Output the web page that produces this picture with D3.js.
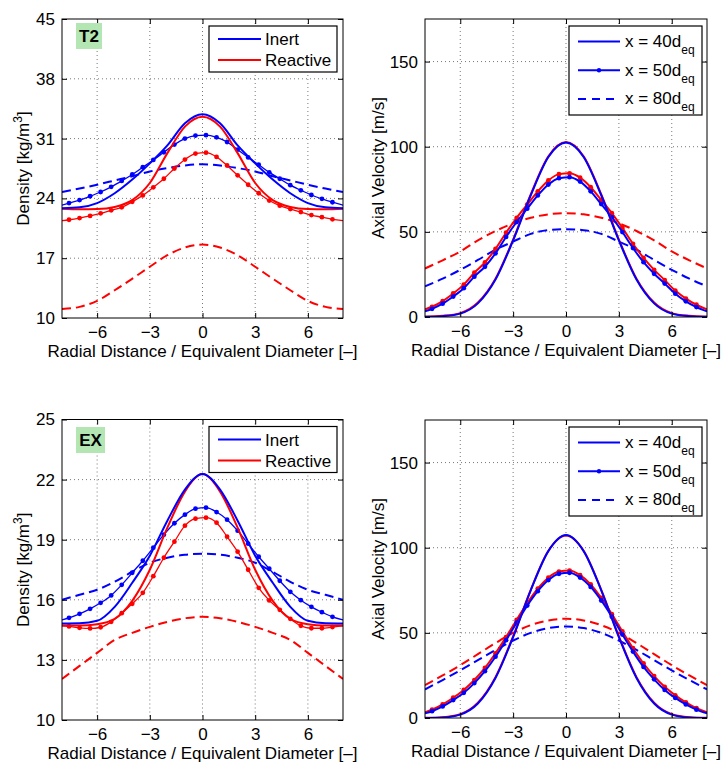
<!DOCTYPE html>
<html>
<head>
<meta charset="utf-8">
<script src="https://cdn.jsdelivr.net/npm/d3@7"></script>
<style>
  body { margin: 0; background: #fff; }
  svg { font-family: "Liberation Sans", Arial, Helvetica, sans-serif; }
</style>
</head>
<body>
<script>
// radial positions (r / d_eq)
const xGrid = [-8, -7, -6, -5, -4, -3, -2, -1, 0, 1, 2, 3, 4, 5, 6, 7, 8];
const markerX = [-8, -7.6, -7.0, -6.4, -5.8, -5.2, -4.6, -4.0, -3.4, -2.8, -2.2, -1.6, -1.0, -0.4,
                 0.2, 0.8, 1.4, 2.0, 2.6, 3.2, 3.8, 4.4, 5.0, 5.6, 6.2, 6.8, 7.4, 8];

const xTicks = [-6, -3, 0, 3, 6];
const t2DensTicks = [10, 17, 24, 31, 38, 45];
const exDensTicks = [10, 13, 16, 19, 22, 25];
const velTicks = [0, 50, 100, 150];

// T2 density [kg/m3]
const t2DensInert40 = [22.85, 22.95, 23.45, 24.6, 26.2, 28.1, 30.2, 32.8, 33.85, 32.8, 30.2, 28.1, 26.2, 24.6, 23.45, 22.95, 22.85];
const t2DensReact40 = [22.8, 22.72, 22.75, 23.0, 23.8, 25.8, 29.3, 32.4, 33.55, 32.4, 29.3, 25.8, 23.8, 23.0, 22.75, 22.72, 22.8];
const t2DensInert50 = [23.2, 23.45, 23.8, 24.25, 24.75, 25.35, 26.05, 26.8, 27.65, 28.5, 29.4, 30.3, 31.0, 31.35,
                       31.4, 31.15, 30.6, 29.7, 28.8, 27.95, 27.05, 26.3, 25.55, 24.95, 24.4, 23.95, 23.55, 23.2];
const t2DensReact50 = [21.4, 21.5, 21.7, 21.95, 22.25, 22.6, 22.95, 23.6, 24.35, 25.3, 26.3, 27.5, 28.55, 29.25,
                       29.35, 28.85, 27.85, 26.7, 25.6, 24.6, 23.75, 23.15, 22.75, 22.4, 22.05, 21.8, 21.55, 21.4];
const t2DensInert80 = [24.75, 25.15, 25.6, 26.1, 26.6, 27.15, 27.55, 27.85, 28.0, 27.85, 27.55, 27.15, 26.6, 26.1, 25.6, 25.15, 24.75];
const t2DensReact80 = [11.05, 11.3, 12.0, 13.25, 14.6, 16.0, 17.35, 18.25, 18.6, 18.25, 17.35, 16.0, 14.6, 13.25, 12.0, 11.3, 11.05];

// T2 axial velocity [m/s]
const t2VelInert40 = [0.1, 0.5, 2, 8, 22, 45, 71.5, 94, 102.5, 94, 71.5, 45, 22, 8, 2, 0.5, 0.1];
const t2VelReact40 = [0.2, 0.7, 2.3, 8.5, 22.5, 45.5, 72, 94.3, 102.7, 94.3, 72, 45.5, 22.5, 8.5, 2.3, 0.7, 0.2];
const t2VelInert50 = [3.3, 4.8, 7.8, 12, 16.9, 23.7, 29.5, 37.4, 47, 55.8, 63.6, 71.4, 77.8, 81.5,
                      82.1, 79.5, 73.8, 66.3, 58.6, 49.9, 40.5, 32.2, 25.4, 19.6, 13.7, 9.2, 5.8, 3.3];
const t2VelReact50 = [4.5, 6, 9.3, 13.8, 19, 26, 32, 40, 49.5, 58.2, 66, 73.8, 80.2, 83.9,
                      84.4, 81.8, 76.2, 68.7, 61, 52.3, 43, 34.7, 27.7, 21.7, 15.5, 10.8, 7.2, 4.5];
const t2VelInert80 = [18, 22.5, 27.7, 33.5, 39.5, 44.3, 48.8, 51, 51.5, 51, 48.8, 44.3, 39.5, 33.5, 27.7, 22.5, 18];
const t2VelReact80 = [28.5, 33.3, 38.5, 45, 50.5, 55, 58.3, 60.3, 61, 60.3, 58.3, 55, 50.5, 45, 38.5, 33.3, 28.5];

// EX density [kg/m3]
const exDensInert40 = [14.82, 14.83, 14.95, 15.65, 16.85, 18.2, 19.95, 21.5, 22.28, 21.5, 19.95, 18.2, 16.85, 15.65, 14.95, 14.83, 14.82];
const exDensReact40 = [14.72, 14.72, 14.78, 15.05, 15.95, 17.5, 19.6, 21.4, 22.28, 21.4, 19.6, 17.5, 15.95, 15.05, 14.78, 14.72, 14.72];
const exDensInert50 = [15.0, 15.1, 15.3, 15.55, 15.85, 16.22, 16.75, 17.35, 17.95, 18.6, 19.25, 19.82, 20.25, 20.55,
                       20.6, 20.38, 20.0, 19.45, 18.8, 18.15, 17.55, 16.95, 16.4, 15.98, 15.65, 15.38, 15.15, 15.0];
const exDensReact50 = [14.7, 14.67, 14.6, 14.57, 14.63, 14.9, 15.33, 15.8, 16.35, 17.18, 18.1, 18.9, 19.7, 20.05,
                       20.1, 19.85, 19.15, 18.4, 17.5, 16.6, 15.97, 15.5, 15.05, 14.7, 14.58, 14.58, 14.64, 14.7];
const exDensInert80 = [16.0, 16.25, 16.5, 16.9, 17.4, 17.85, 18.1, 18.25, 18.3, 18.25, 18.1, 17.85, 17.4, 16.9, 16.5, 16.25, 16.0];
const exDensReact80 = [12.05, 12.7, 13.35, 14.0, 14.35, 14.65, 14.9, 15.08, 15.15, 15.08, 14.9, 14.65, 14.35, 14.0, 13.35, 12.7, 12.05];

// EX axial velocity [m/s]
const exVelInert40 = [0, 0.3, 2, 8.5, 23.5, 47.5, 75, 98, 107.4, 98, 75, 47.5, 23.5, 8.5, 2, 0.3, 0];
const exVelReact40 = [0.1, 0.5, 2.3, 9, 24, 48, 75.3, 98.2, 107.2, 98.2, 75.3, 48, 24, 9, 2.3, 0.5, 0.1];
const exVelInert50 = [2.7, 4, 6.8, 10.5, 14.8, 20.5, 27.5, 36, 45.7, 56, 66, 74.5, 81, 84.7,
                      85.3, 82.5, 77, 69, 59.5, 49, 39, 30, 22.7, 16.5, 11.8, 8, 4.9, 2.7];
const exVelReact50 = [3.4, 4.9, 8, 11.9, 16.5, 22.3, 29.4, 38, 47.5, 57.6, 67.5, 76, 82.4, 86,
                      86.6, 83.9, 78.5, 70.5, 61, 50.8, 41, 32, 24.6, 18.3, 13.3, 9.2, 5.8, 3.4];
const exVelInert80 = [16.8, 22.3, 28, 34, 40, 45.5, 50, 52.8, 53.8, 52.8, 50, 45.5, 40, 34, 28, 22.3, 16.8];
const exVelReact80 = [19.3, 25, 31, 37.5, 44, 50, 54.5, 57.3, 58.3, 57.3, 54.5, 50, 44, 37.5, 31, 25, 19.3];

const BLUE = '#0000ff';
const RED = '#ff0000';
const FONT = 17;

const svg = d3.select('body').append('svg')
  .attr('width', 724)
  .attr('height', 763);

const defs = svg.append('defs');

// red first so blue sits on top, like the original
const makeSeries = (i40, r40, i50, r50, i80, r80) => [
  { x: xGrid, y: r80, color: RED, kind: 'dash' },
  { x: xGrid, y: i80, color: BLUE, kind: 'dash' },
  { x: markerX, y: r50, color: RED, kind: 'dots' },
  { x: markerX, y: i50, color: BLUE, kind: 'dots' },
  { x: xGrid, y: r40, color: RED, kind: 'solid' },
  { x: xGrid, y: i40, color: BLUE, kind: 'solid' }
];

const panels = [
  { id: 'p1', left: 62, right: 343, top: 19, bottom: 318, yDomain: [10, 45], yTicks: t2DensTicks,
    ylabel: 'density', ylabelX: 29, legend: 'case', tag: 'T2', tagW: 26, tagTop: 4, dotW: 1.3,
    series: makeSeries(t2DensInert40, t2DensReact40, t2DensInert50, t2DensReact50, t2DensInert80, t2DensReact80) },
  { id: 'p2', left: 425, right: 707, top: 19, bottom: 317, yDomain: [0, 175], yTicks: velTicks,
    ylabel: 'velocity', ylabelX: 384, legend: 'station', dotW: 2,
    series: makeSeries(t2VelInert40, t2VelReact40, t2VelInert50, t2VelReact50, t2VelInert80, t2VelReact80) },
  { id: 'p3', left: 62, right: 343, top: 419.5, bottom: 720, yDomain: [10, 25], yTicks: exDensTicks,
    ylabel: 'density', ylabelX: 29, legend: 'case', tag: 'EX', tagW: 29, tagTop: 7.5, dotW: 1.3,
    series: makeSeries(exDensInert40, exDensReact40, exDensInert50, exDensReact50, exDensInert80, exDensReact80) },
  { id: 'p4', left: 425, right: 707, top: 420, bottom: 718, yDomain: [0, 175], yTicks: velTicks,
    ylabel: 'velocity', ylabelX: 384, legend: 'station', dotW: 2,
    series: makeSeries(exVelInert40, exVelReact40, exVelInert50, exVelReact50, exVelInert80, exVelReact80) }
];

const styleLine = (sel, kind, color, dotW) => {
  sel.attr('fill', 'none')
    .attr('stroke', color)
    .attr('stroke-width', kind === 'dots' ? dotW : 2)
    .attr('stroke-dasharray', kind === 'dash' ? '9,5' : null);
};

function drawPanel(p) {
  const x = d3.scaleLinear().domain([-8, 8]).range([p.left, p.right]);
  const y = d3.scaleLinear().domain(p.yDomain).range([p.bottom, p.top]);
  const g = svg.append('g');

  defs.append('clipPath').attr('id', 'clip-' + p.id)
    .append('rect')
      .attr('x', p.left).attr('y', p.top)
      .attr('width', p.right - p.left).attr('height', p.bottom - p.top);

  // dotted grid
  const grid = g.append('g')
    .attr('stroke', '#555')
    .attr('stroke-width', 0.8)
    .attr('stroke-dasharray', '1,3');
  grid.selectAll('.gx').data(xTicks).join('line')
    .attr('x1', d => x(d)).attr('x2', d => x(d))
    .attr('y1', p.top).attr('y2', p.bottom);
  grid.selectAll('.gy').data(p.yTicks.filter(d => d > p.yDomain[0] && d < p.yDomain[1])).join('line')
    .attr('x1', p.left).attr('x2', p.right)
    .attr('y1', d => y(d)).attr('y2', d => y(d));

  // curves
  const line = d3.line()
    .x(d => x(d[0]))
    .y(d => y(d[1]))
    .curve(d3.curveMonotoneX);

  const plot = g.append('g').attr('clip-path', `url(#clip-${p.id})`);
  p.series.forEach(s => {
    const pts = s.x.map((v, i) => [v, s.y[i]]);
    plot.append('path')
      .attr('d', line(pts))
      .call(styleLine, s.kind, s.color, p.dotW);
    if (s.kind === 'dots') {
      plot.append('g').selectAll('circle')
        .data(pts.filter(d => Math.abs(d[0]) < 8))
        .join('circle')
          .attr('cx', d => x(d[0]))
          .attr('cy', d => y(d[1]))
          .attr('r', 2.4)
          .attr('fill', s.color);
    }
  });

  // axes, ticks pointing inward on all four sides
  const axisStyle = a => {
    a.select('.domain').remove();
    a.selectAll('line').attr('stroke', '#000');
    a.selectAll('text').attr('font-size', FONT).attr('fill', '#000').attr('font-family', null);
  };
  g.append('g').attr('transform', `translate(0,${p.bottom})`)
    .call(d3.axisBottom(x).tickValues(xTicks).tickSize(-5).tickPadding(8)).call(axisStyle);
  g.append('g').attr('transform', `translate(0,${p.top})`)
    .call(d3.axisTop(x).tickValues(xTicks).tickSize(-5).tickFormat('')).call(axisStyle);
  g.append('g').attr('transform', `translate(${p.left},0)`)
    .call(d3.axisLeft(y).tickValues(p.yTicks).tickSize(-5).tickPadding(7)).call(axisStyle);
  g.append('g').attr('transform', `translate(${p.right},0)`)
    .call(d3.axisRight(y).tickValues(p.yTicks).tickSize(-5).tickFormat('')).call(axisStyle);

  g.append('rect')
    .attr('x', p.left).attr('y', p.top)
    .attr('width', p.right - p.left).attr('height', p.bottom - p.top)
    .attr('fill', 'none').attr('stroke', '#000').attr('stroke-width', 1);

  // axis labels
  g.append('text')
    .attr('x', (p.left + p.right) / 2)
    .attr('y', p.bottom + 38.5)
    .attr('text-anchor', 'middle')
    .attr('font-size', FONT)
    .text('Radial Distance / Equivalent Diameter [\u2013]');

  const yl = g.append('text')
    .attr('transform', `translate(${p.ylabelX},${(p.top + p.bottom) / 2}) rotate(-90)`)
    .attr('text-anchor', 'middle')
    .attr('font-size', FONT);
  if (p.ylabel === 'density') {
    yl.append('tspan').text('Density [kg/m');
    yl.append('tspan').attr('font-size', 12).attr('dy', -7).text('3');
    yl.append('tspan').attr('dy', 7).text(']');
  } else {
    yl.text('Axial Velocity [m/s]');
  }

  // case tag
  if (p.tag) {
    const tx = p.left + 14, ty = p.top + p.tagTop;
    g.append('rect')
      .attr('x', tx).attr('y', ty)
      .attr('width', p.tagW).attr('height', 26)
      .attr('fill', '#b3e6b3');
    g.append('text')
      .attr('x', tx + p.tagW / 2).attr('y', ty + 19)
      .attr('text-anchor', 'middle')
      .attr('font-size', FONT)
      .attr('font-weight', 'bold')
      .text(p.tag);
  }

  // legend
  if (p.legend === 'case') {
    const bx = p.right - 134, by = p.top + 7;
    const lg = g.append('g');
    lg.append('rect')
      .attr('x', bx).attr('y', by).attr('width', 128).attr('height', 46)
      .attr('fill', '#fff').attr('stroke', '#000').attr('stroke-width', 1.2);
    [['Inert', BLUE], ['Reactive', RED]].forEach(([name, c], i) => {
      const ry = by + 13 + i * 21;
      lg.append('line')
        .attr('x1', bx + 9).attr('x2', bx + 52)
        .attr('y1', ry).attr('y2', ry)
        .attr('stroke', c).attr('stroke-width', 2);
      lg.append('text')
        .attr('x', bx + 56).attr('y', ry + 6)
        .attr('font-size', FONT)
        .text(name);
    });
  } else {
    const bx = p.right - 138, by = p.top + 7;
    const lg = g.append('g');
    lg.append('rect')
      .attr('x', bx).attr('y', by).attr('width', 133).attr('height', 89)
      .attr('fill', '#fff').attr('stroke', '#000').attr('stroke-width', 1.2);
    [['40', 'solid'], ['50', 'dots'], ['80', 'dash']].forEach(([d, kind], i) => {
      const ry = by + 15.5 + i * 28.7;
      lg.append('line')
        .attr('x1', bx + 9).attr('x2', bx + 51)
        .attr('y1', ry).attr('y2', ry)
        .call(styleLine, kind, BLUE, 2)
        .attr('stroke-dasharray', kind === 'dash' ? '8,6' : null);
      if (kind === 'dots') {
        lg.append('circle')
          .attr('cx', bx + 30).attr('cy', ry).attr('r', 2.2)
          .attr('fill', BLUE);
      }
      const t = lg.append('text')
        .attr('x', bx + 56).attr('y', ry + 5.5)
        .attr('font-size', FONT);
      t.append('tspan').text(`x = ${d}d`);
      t.append('tspan').attr('font-size', 12).attr('dy', 7).text('eq');
    });
  }
}

panels.forEach(drawPanel);
</script>
</body>
</html>
